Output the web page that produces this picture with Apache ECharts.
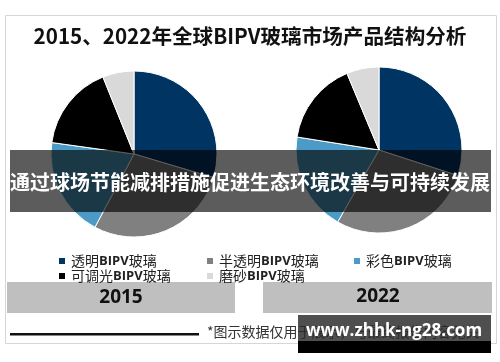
<!DOCTYPE html>
<html>
<head>
<meta charset="utf-8">
<script src="https://cdn.jsdelivr.net/npm/echarts@6/dist/echarts.min.js"></script>
<style>
html,body{margin:0;padding:0;background:#fff;}
#chart{width:500px;height:362px;}
</style>
</head>
<body>
<div id="chart"></div>
<script>
const titleText = '2015、2022年全球BIPV玻璃市场产品结构分析';
const categories = ['透明BIPV玻璃', '半透明BIPV玻璃', '彩色BIPV玻璃', '可调光BIPV玻璃', '磨砂BIPV玻璃'];
const years = ['2015', '2022'];
const values2015 = [29.6, 28.2, 19.4, 16.7, 6.1];
const values2022 = [30.0, 28.3, 19.2, 16.2, 6.3];
const colors = ['#003463', '#808080', '#4b9bc6', '#000000', '#d9d9d9'];
const bannerText = '通过球场节能减排措施促进生态环境改善与可持续发展';
const footnoteText = '*图示数据仅用于展示，与最终报告内容无关';
const watermarkText = 'www.zhhk-ng28.com';

const chart = echarts.init(document.getElementById('chart'), null, {renderer: 'canvas'});

const legendPos = [
  {left: 52, top: 249},
  {left: 200, top: 249},
  {left: 347, top: 249},
  {left: 52, top: 264},
  {left: 200, top: 264}
];

function pieSeries(vals, center) {
  return {
    type: 'pie',
    center: center,
    radius: 83,
    startAngle: 90,
    clockwise: true,
    label: {show: false},
    labelLine: {show: false},
    emphasis: {disabled: true},
    itemStyle: {borderColor: '#ffffff', borderWidth: 1},
    data: categories.map((c, i) => ({name: c, value: vals[i]}))
  };
}

function legendFormatter(name) {
  const parts = name.split('BIPV');
  return '{c|' + parts[0] + '}{b|BIPV}{c|' + parts[1] + '}';
}

const option = {
  animation: false,
  color: colors,
  title: {
    text: titleText,
    left: 'center',
    top: 21,
    textStyle: {fontSize: 20.6, fontWeight: 'bold', color: '#111', fontFamily: 'Noto Sans CJK SC'}
  },
  legend: categories.map((c, i) => ({
    data: [c],
    left: legendPos[i].left,
    top: legendPos[i].top,
    icon: 'rect',
    itemWidth: 8,
    itemHeight: 8,
    itemGap: 0,
    selectedMode: false,
    formatter: legendFormatter,
    textStyle: {
      color: '#222',
      rich: {
        c: {fontSize: 14, color: '#222', fontFamily: 'Noto Sans CJK SC'},
        b: {fontSize: 13, fontWeight: 'bold', color: '#222', fontFamily: '"Open Sans", sans-serif'}
      }
    }
  })),
  series: [
    pieSeries(values2015, [134, 154]),
    pieSeries(values2022, [379, 150])
  ],
  graphic: [
    {type: 'rect', z: -10, shape: {x: 5.5, y: 15.5, width: 491, height: 328}, style: {fill: 'none', stroke: '#d6d6d6', lineWidth: 1}},
    {type: 'rect', shape: {x: 7, y: 282, width: 228, height: 31}, style: {fill: '#bfbfbf'}},
    {type: 'rect', shape: {x: 263, y: 282, width: 229, height: 31}, style: {fill: '#bfbfbf'}},
    {type: 'text', x: 121, y: 298, style: {text: years[0], font: 'bold 19px "Open Sans", sans-serif', fill: '#111', align: 'center', verticalAlign: 'middle'}},
    {type: 'text', x: 378, y: 297, style: {text: years[1], font: 'bold 19px "Open Sans", sans-serif', fill: '#111', align: 'center', verticalAlign: 'middle'}},
    {type: 'rect', shape: {x: 10, y: 333, width: 189, height: 2.5}, style: {fill: '#111'}},
    {type: 'text', x: 207, y: 332, style: {text: footnoteText, font: '14px "Noto Sans CJK SC"', fill: '#333', verticalAlign: 'middle'}},
    {type: 'rect', z: 100, shape: {x: 10, y: 150, width: 481, height: 62}, style: {fill: 'rgba(0,0,0,0.64)'}},
    {type: 'text', z: 101, x: 250, y: 182, style: {text: bannerText, font: 'bold 20px "Noto Sans CJK SC"', fill: '#ffffff', align: 'center', verticalAlign: 'middle'}},
    {type: 'rect', z: 100, shape: {x: 298, y: 315, width: 193, height: 27}, style: {fill: 'rgba(40,40,40,0.82)'}},
    {type: 'rect', z: 100, shape: {x: 298, y: 341, width: 193, height: 12}, style: {fill: '#000'}},
    {type: 'text', z: 101, x: 394, y: 331, style: {text: watermarkText, font: 'bold 17px "Open Sans", sans-serif', fill: '#ffffff', align: 'center', verticalAlign: 'middle'}}
  ]
};
chart.setOption(option);
</script>
</body>
</html>
